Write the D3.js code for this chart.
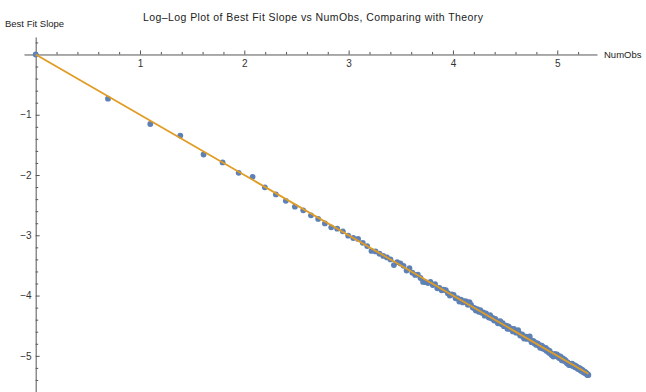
<!DOCTYPE html>
<html>
<head>
<meta charset="utf-8">
<script src="https://cdn.jsdelivr.net/npm/d3@7"></script>
<style>
  html, body { margin: 0; padding: 0; background: #fff; }
  svg { display: block; font-family: "Liberation Sans", Arial, sans-serif; }
</style>
</head>
<body>
<div id="chart"></div>
<script>
// NumObs values (1..200) and the log-residual of each best fit slope
// from the theory line
const numObs = d3.range(1, 201);
const residual = [
  0, -0.04, -0.055, 0.04, -0.05, 0, -0.017, 0.05, -0.007, -0.02,
  -0.03, -0.04, -0.02, -0.03, -0.02, -0.03, -0.035, 0, 0.01, -0.01,
  0, 0.03, 0.01, 0, -0.04, -0.01, -0.01, -0.01, 0, 0,
  -0.06, 0.02, 0.03, 0.02, -0.03, 0.04, -0.01, -0.02, 0.01, -0.02,
  -0.06, -0.04, -0.03, 0.01, -0.02, 0.02, -0.03, 0, -0.02, 0.01,
  0.02, -0.01, -0.03, 0.01, 0.02, -0.02, 0, -0.04, 0.01, -0.02,
  0.02, 0.03, -0.01, 0.05, 0.02, -0.01, 0, -0.03, 0.01, -0.02,
  0.02, -0.01, 0.01, -0.03, 0.02, 0, -0.02, 0.03, -0.01, 0.01,
  -0.02, 0.02, 0, -0.03, 0.01, 0.03, -0.01, 0.02, -0.02, 0,
  0.01, -0.03, 0.02, -0.01, 0.01, 0, -0.02, 0.03, 0.01, -0.01,
  0.02, 0.05, 0.01, -0.02, 0, 0.02, -0.01, -0.03, 0.01, 0.02,
  -0.01, 0.03, 0.02, 0.06, 0.01, -0.02, 0, 0.02, -0.01, 0.01,
  -0.02, 0, 0.02, -0.01, 0.01, -0.03, 0, 0.02, -0.02, 0.01,
  0, -0.01, 0.02, -0.02, 0.01, 0, -0.03, 0.01, -0.02, -0.03,
  -0.04, -0.02, -0.05, -0.01, 0.01, -0.02, 0, 0.02, -0.01, 0.01,
  -0.02, 0, 0.02, -0.01, -0.03, 0.01, 0, -0.02, 0.01, -0.01,
  0, -0.02, -0.03, -0.01, -0.02, -0.04, -0.02, -0.03, -0.01, 0,
  0.01, -0.02, 0, -0.01, 0.01, -0.02, 0, 0.01, -0.01, 0,
  -0.02, 0.01, 0, -0.01, 0.01, -0.02, 0, -0.01, 0.01, -0.02,
  0, -0.01, -0.02, 0, -0.01, -0.02, -0.01, -0.03, -0.02, -0.02
];
const xMajor = [1, 2, 3, 4, 5];
const yMajor = [-1, -2, -3, -4, -5];

const width = 646, height = 392;
const points = numObs.map((n, i) => ({ x: Math.log(n), y: -Math.log(n) + residual[i] }));

const svg = d3.select("#chart").append("svg")
  .attr("width", width)
  .attr("height", height);

const x = d3.scaleLinear().domain([-0.112, 5.381]).range([24, 597]);
const y = d3.scaleLinear().domain([0.29, -5.6]).range([37, 392]);

const axisColor = "#555";

// minor ticks every 0.2
const xMinor = d3.range(1, 27).map(d => d / 5).filter(d => Math.abs(d - Math.round(d)) > 1e-6);
const yMinor = d3.range(-28, 2).map(d => d / 5).filter(d => d !== 0 && Math.abs(d - Math.round(d)) > 1e-6);

// x axis (at y = 0)
const gx = svg.append("g").attr("transform", `translate(0,${y(0)})`);
gx.call(d3.axisBottom(x).tickValues(xMajor).tickSizeInner(-4).tickSizeOuter(0).tickPadding(5).tickFormat(d3.format("d")));
gx.append("g").call(d3.axisBottom(x).tickValues(xMinor).tickSizeInner(-2.5).tickSizeOuter(0).tickFormat(""))
  .select(".domain").remove();

// y axis (at x = 0)
const gy = svg.append("g").attr("transform", `translate(${x(0)},0)`);
gy.call(d3.axisLeft(y).tickValues(yMajor).tickSizeInner(-4).tickSizeOuter(0).tickPadding(4)
  .tickFormat(d => "\u2212" + Math.abs(d)));
gy.append("g").call(d3.axisLeft(y).tickValues(yMinor).tickSizeInner(-2.5).tickSizeOuter(0).tickFormat(""))
  .select(".domain").remove();

svg.selectAll(".domain").attr("stroke", axisColor).attr("stroke-width", 1);
svg.selectAll(".tick line").attr("stroke", axisColor).attr("stroke-width", 1);
svg.selectAll(".tick text").attr("fill", "#333").attr("font-size", 10)
  .attr("font-family", "Liberation Sans, Arial, sans-serif");

// data points
svg.append("g")
  .selectAll("circle")
  .data(points)
  .enter()
  .append("circle")
  .attr("cx", d => x(d.x))
  .attr("cy", d => y(d.y))
  .attr("r", 2.9)
  .attr("fill", "#5E81B5");

// theory line: slope -1
const xEnd = Math.log(numObs[numObs.length - 1]);
svg.append("line")
  .attr("x1", x(0)).attr("y1", y(0))
  .attr("x2", x(xEnd)).attr("y2", y(-xEnd))
  .attr("stroke", "#E19C24")
  .attr("stroke-width", 1.8);

// labels
svg.append("text")
  .attr("x", 143).attr("y", 21)
  .attr("font-size", 10.5)
  .attr("fill", "#222")
  .attr("textLength", 340)
  .attr("lengthAdjust", "spacing")
  .text("Log\u2013Log Plot of Best Fit Slope vs NumObs, Comparing with Theory");

svg.append("text")
  .attr("x", 5).attr("y", 27)
  .attr("font-size", 9.5)
  .attr("fill", "#222")
  .text("Best Fit Slope");

svg.append("text")
  .attr("x", 604).attr("y", 58)
  .attr("font-size", 9.5)
  .attr("fill", "#222")
  .text("NumObs");
</script>
</body>
</html>
